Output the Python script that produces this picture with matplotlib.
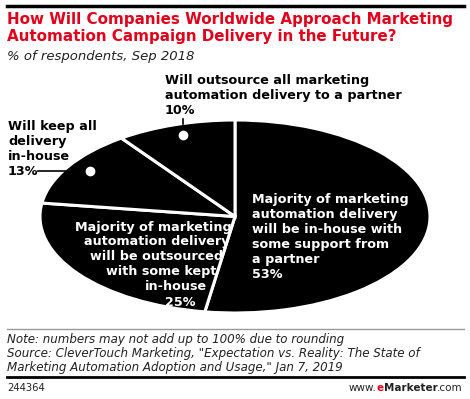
import matplotlib
matplotlib.use("Agg")
import matplotlib.pyplot as plt
from matplotlib.lines import Line2D

categories = [
    "Majority of marketing\nautomation delivery\nwill be in-house with\nsome support from\na partner",
    "Majority of marketing\nautomation delivery\nwill be outsourced\nwith some kept\nin-house",
    "Will keep all\ndelivery\nin-house",
    "Will outsource all marketing\nautomation delivery to a partner",
]
values = [53, 25, 13, 10]

W, H = 470, 399
fig = plt.figure(figsize=(W / 100, H / 100), dpi=100)
fig.patch.set_facecolor("white")

def fx(px):
    return px / W

def fy(py):
    return 1 - py / H

# pie axes positioned on ellipse bounding box
left, right, top, bottom = 40, 430, 120, 313
ax = fig.add_axes([fx(left), fy(bottom), fx(right - left), (bottom - top) / H])
wedges, _ = ax.pie(values, startangle=90, counterclock=False, colors=["black"] * 4,
                   wedgeprops=dict(edgecolor="white", linewidth=2.2))
ax.set_aspect("auto")
ax.set_xlim(-1, 1)
ax.set_ylim(-1, 1)
ax.axis("off")

bold = dict(fontweight="bold", fontsize=9.2, family="DejaVu Sans", linespacing=1.2)

# inside labels
fig.text(fx(252), fy(193), f"{categories[0]}\n{values[0]}%", color="white",
         ha="left", va="top", **bold)
# second label: each line centred to fit the slanted wedge edge
lines25 = categories[1].split("\n") + [f"{values[1]}%"]
centers_x = [153, 157, 157, 161, 176, 180]
for i, (ln, cx) in enumerate(zip(lines25, centers_x)):
    fig.text(fx(cx), fy(227 + 15 * i), ln, color="white", ha="center", va="center", **bold)

# outside labels
fig.text(fx(8), fy(120), f"{categories[2]}\n{values[2]}%", color="black",
         ha="left", va="top", **bold)
fig.text(fx(165), fy(74), f"{categories[3]}\n{values[3]}%", color="black",
         ha="left", va="top", **bold)

# connectors with dots
fig.add_artist(Line2D([fx(38), fx(90)], [fy(171), fy(171)], color="black", lw=1.2))
fig.add_artist(Line2D([fx(90)], [fy(171)], marker="o", color="white", markersize=6))
fig.add_artist(Line2D([fx(183), fx(183)], [fy(119), fy(124)], color="black", lw=1.2))
fig.add_artist(Line2D([fx(183)], [fy(135)], marker="o", color="white", markersize=6))

# header
fig.add_artist(Line2D([fx(7), fx(464)], [fy(6), fy(6)], color="black", lw=2.5))
fig.text(fx(7), fy(12), "How Will Companies Worldwide Approach Marketing\nAutomation Campaign Delivery in the Future?",
         color="#e0001b", fontweight="bold", fontsize=10.9, family="DejaVu Sans",
         ha="left", va="top", linespacing=1.2)
fig.text(fx(7), fy(50), "% of respondents, Sep 2018", fontstyle="italic", fontsize=9.5,
         family="DejaVu Sans", ha="left", va="top", color="#222222")

# footer
fig.add_artist(Line2D([fx(7), fx(464)], [fy(329), fy(329)], color="#999999", lw=1.0))
fig.text(fx(7), fy(333),
         "Note: numbers may not add up to 100% due to rounding\n"
         "Source: CleverTouch Marketing, \"Expectation vs. Reality: The State of\n"
         "Marketing Automation Adoption and Usage,\" Jan 7, 2019",
         fontstyle="italic", fontsize=8.6, family="DejaVu Sans", ha="left", va="top",
         color="#222222", linespacing=1.08)
fig.add_artist(Line2D([fx(7), fx(464)], [fy(377), fy(377)], color="black", lw=2.0))
fig.text(fx(7), fy(388), "244364", fontsize=7.2, family="DejaVu Sans", ha="left", va="center",
         color="#222222")
t1 = fig.text(fx(463), fy(388), ".com", fontsize=7.5, family="DejaVu Sans", ha="right",
              va="center", color="#222222")
fig.canvas.draw()
r = fig.canvas.get_renderer()
bb = t1.get_window_extent(r)
t2 = fig.text(bb.x0 / (W), fy(388), "Marketer", fontsize=7.5, fontweight="bold",
              family="DejaVu Sans", ha="right", va="center", color="#222222")
bb = t2.get_window_extent(r)
t3 = fig.text(bb.x0 / W, fy(388), "e", fontsize=7.5, fontweight="bold",
              family="DejaVu Sans", ha="right", va="center", color="#e0001b")
bb = t3.get_window_extent(r)
fig.text(bb.x0 / W, fy(388), "www.", fontsize=7.5, family="DejaVu Sans", ha="right",
         va="center", color="#222222")

fig.savefig("out.png", dpi=100, facecolor="white")
